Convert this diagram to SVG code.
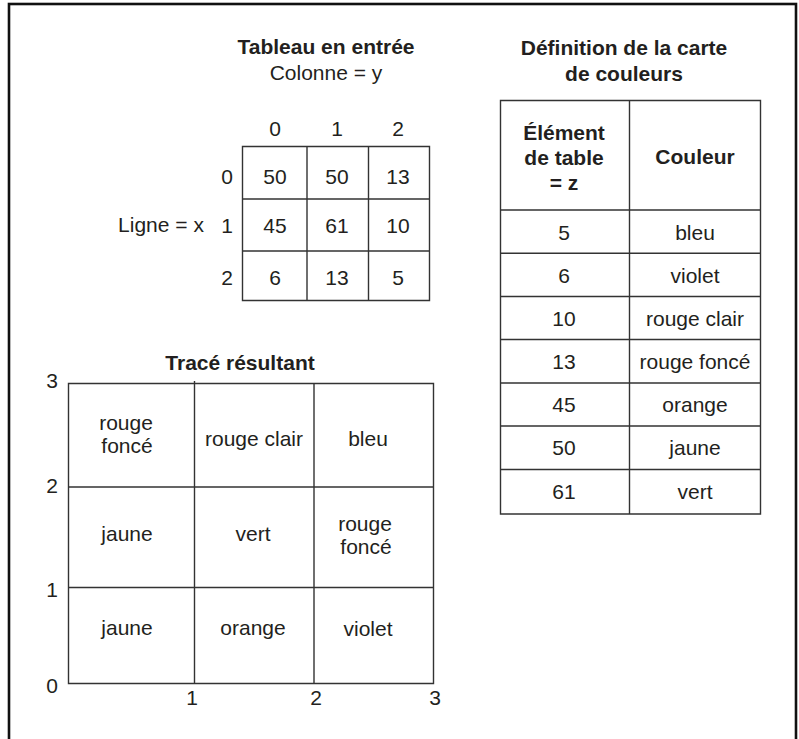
<svg xmlns="http://www.w3.org/2000/svg" width="799" height="739" viewBox="0 0 799 739">
<style>
text{font-family:"Liberation Sans",Arial,Helvetica,sans-serif;font-size:21px;fill:#231f20;text-anchor:middle}
.b{font-weight:bold}
.grid{fill:none;stroke:#333;stroke-width:1.4}
</style>
<rect x="0" y="0" width="799" height="739" fill="#fff"/>
<rect x="9" y="4" width="787" height="745" fill="none" stroke="#111" stroke-width="2.6"/>

<g id="input-table">
<text class="b" x="326" y="54">Tableau en entrée</text>
<text x="326" y="80">Colonne = y</text>
<text x="275" y="136">0</text>
<text x="337" y="136">1</text>
<text x="398" y="136">2</text>
<text x="227" y="184">0</text>
<text x="227" y="233">1</text>
<text x="227" y="285">2</text>
<text x="161" y="232">Ligne = x</text>
<path class="grid" d="M242.5,146.5H429.5V300.5H242.5Z M307,146.5V300.5 M368.5,146.5V300.5 M242.5,199H429.5 M242.5,251H429.5"/>
<text x="275" y="184">50</text>
<text x="337" y="184">50</text>
<text x="398" y="184">13</text>
<text x="275" y="233">45</text>
<text x="337" y="233">61</text>
<text x="398" y="233">10</text>
<text x="275" y="285">6</text>
<text x="337" y="285">13</text>
<text x="398" y="285">5</text>
</g>

<g id="color-map">
<text class="b" x="624" y="55">Définition de la carte</text>
<text class="b" x="624" y="81">de couleurs</text>
<path class="grid" d="M500.5,100.5H760.5V514H500.5Z M629.5,100.5V514 M500.5,210H760.5 M500.5,253.3H760.5 M500.5,296.5H760.5 M500.5,339.5H760.5 M500.5,383H760.5 M500.5,426H760.5 M500.5,469.5H760.5"/>
<text class="b" x="564" y="140">Élément</text>
<text class="b" x="564" y="165">de table</text>
<text class="b" x="564" y="190">= z</text>
<text class="b" x="695" y="164">Couleur</text>
<text x="564" y="240">5</text><text x="695" y="240">bleu</text>
<text x="564" y="283">6</text><text x="695" y="283">violet</text>
<text x="564" y="326">10</text><text x="695" y="326">rouge clair</text>
<text x="564" y="369">13</text><text x="695" y="369">rouge foncé</text>
<text x="564" y="412">45</text><text x="695" y="412">orange</text>
<text x="564" y="455">50</text><text x="695" y="455">jaune</text>
<text x="564" y="499">61</text><text x="695" y="499">vert</text>
</g>

<g id="plot">
<text class="b" x="240" y="370">Tracé résultant</text>
<path class="grid" d="M68.5,383.5H433.5V683.5H68.5Z M194.5,381V683.5 M314,383.5V683.5 M68.5,487H433.5 M68.5,587.5H433.5"/>
<text x="52" y="388">3</text>
<text x="52" y="493">2</text>
<text x="52" y="597">1</text>
<text x="52" y="693">0</text>
<text x="192" y="705">1</text>
<text x="316" y="705">2</text>
<text x="435" y="705">3</text>
<text x="126" y="430">rouge</text>
<text x="127" y="453">foncé</text>
<text x="254" y="446">rouge clair</text>
<text x="368" y="446">bleu</text>
<text x="127" y="541">jaune</text>
<text x="253" y="541">vert</text>
<text x="365" y="531">rouge</text>
<text x="366" y="554">foncé</text>
<text x="127" y="635">jaune</text>
<text x="253" y="635">orange</text>
<text x="368" y="636">violet</text>
</g>
</svg>
